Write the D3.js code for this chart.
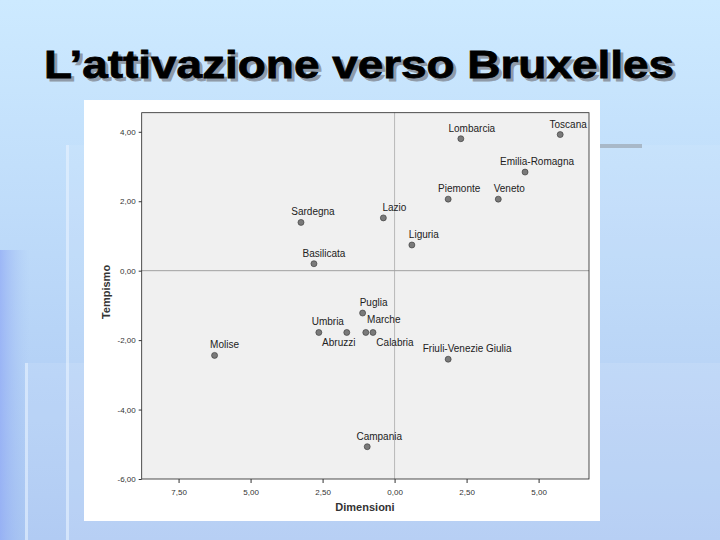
<!DOCTYPE html>
<html><head><meta charset="utf-8">
<script src="https://cdn.jsdelivr.net/npm/d3@7"></script>
<style>body{margin:0}svg{display:block}</style>
</head><body><div id="chart"></div>
<script>
// regions and their scores
const regions = ["Lombarcia","Toscana","Emilia-Romagna","Piemonte","Veneto","Lazio","Sardegna","Liguria","Basilicata","Puglia","Umbria","Abruzzi","Marche","Calabria","Friuli-Venezie Giulia","Molise","Campania"];
const dimensioni = [2.30,5.75,4.53,1.86,3.60,-0.39,-3.25,0.60,-2.80,-1.11,-2.63,-1.66,-1.00,-0.75,1.86,-6.25,-0.95];
const tempismo = [3.80,3.92,2.84,2.06,2.06,1.52,1.39,0.74,0.20,-1.22,-1.78,-1.78,-1.78,-1.78,-2.55,-2.44,-5.07];
const xTicks = [-7.5,-5,-2.5,0,2.5,5];
const xTickLabels = ["7,50","5,00","2,50","0,00","2,50","5,00"];
const yTicks = [4,2,0,-2,-4,-6];
const yTickLabels = ["4,00","2,00","0,00","-2,00","-4,00","-6,00"];
// label offsets (px) for each point
const labelDx = [11,8,12,11,11,11,12,12,10,11,9,-8,18,22,19,10,12];
const labelDy = [-7,-7,-7,-7,-7,-7,-7,-7,-7,-7,-7,14,-9,14,-7,-7,-7];

const W = 720, H = 540;
const svg = d3.select("#chart").append("svg").attr("width", W).attr("height", H);

const defs = svg.append("defs");
const g = defs.append("linearGradient").attr("id","bg").attr("x1",0).attr("y1",0).attr("x2",0).attr("y2",1);
g.append("stop").attr("offset","0%").attr("stop-color","#cdeaff");
g.append("stop").attr("offset","100%").attr("stop-color","#a9c6f2");
const g2 = defs.append("linearGradient").attr("id","side").attr("x1",0).attr("y1",0).attr("x2",1).attr("y2",0);
g2.append("stop").attr("offset","0%").attr("stop-color","#8fa8f5").attr("stop-opacity",0.7);
g2.append("stop").attr("offset","100%").attr("stop-color","#a9c6f2").attr("stop-opacity",0);
svg.append("rect").attr("width",W).attr("height",H).attr("fill","url(#bg)");
svg.append("rect").attr("x",0).attr("y",250).attr("width",30).attr("height",290).attr("fill","url(#side)");
// decorative bands
svg.append("rect").attr("x",66).attr("y",145).attr("width",654).attr("height",395).attr("fill","#ffffff").attr("opacity",0.08);
svg.append("rect").attr("x",25).attr("y",363).attr("width",695).attr("height",177).attr("fill","#ffffff").attr("opacity",0.1);
svg.append("rect").attr("x",66).attr("y",145).attr("width",3).attr("height",395).attr("fill","#e6f2ff").attr("opacity",0.6);
svg.append("rect").attr("x",25).attr("y",363).attr("width",3).attr("height",177).attr("fill","#e6f2ff").attr("opacity",0.6);
svg.append("rect").attr("x",560).attr("y",144).attr("width",82).attr("height",4).attr("fill","#a8b8c8");

// title
const title = "L\u2019attivazione verso Bruxelles";
[["#8f9aa8",47,81],["#000",44,78]].forEach(([c,tx,ty])=>{
  svg.append("text").attr("x",tx).attr("y",ty).attr("textLength",630).attr("lengthAdjust","spacingAndGlyphs")
    .style("font-family","Liberation Sans, Arial, sans-serif").style("font-weight","bold").style("font-size","38px")
    .attr("fill",c).attr("stroke",c).attr("stroke-width",0.8).text(title);
});

// white panel
svg.append("rect").attr("x",84).attr("y",100).attr("width",516).attr("height",421).attr("fill","#fff");

const L = 141.7, R = 589, T = 112.7, B = 479;
const x = d3.scaleLinear().domain([-8.78,6.75]).range([L,R]);
const y = d3.scaleLinear().domain([-6,4.55]).range([B,T]);

svg.append("rect").attr("x",L).attr("y",T).attr("width",R-L).attr("height",B-T).attr("fill","#f0f0f0");
svg.append("line").attr("x1",x(0)).attr("x2",x(0)).attr("y1",T).attr("y2",B).attr("stroke","#b8b8b8");
svg.append("line").attr("x1",L).attr("x2",R).attr("y1",y(0)).attr("y2",y(0)).attr("stroke","#a0a0a0");
svg.append("rect").attr("x",L).attr("y",T).attr("width",R-L).attr("height",B-T).attr("fill","none").attr("stroke","#222").attr("stroke-width",0.8);

const xAxis = svg.append("g").attr("transform",`translate(0,${B})`)
  .call(d3.axisBottom(x).tickValues(xTicks).tickSize(4).tickFormat((d,i)=>xTickLabels[i]));
const yAxis = svg.append("g").attr("transform",`translate(${L},0)`)
  .call(d3.axisLeft(y).tickValues(yTicks).tickSize(3).tickFormat((d,i)=>yTickLabels[i]));
[xAxis,yAxis].forEach(a=>{
  a.select(".domain").remove();
  a.selectAll("text").style("font-family","Liberation Sans, Arial, sans-serif").style("font-size","8px").attr("fill","#333");
  a.selectAll("line").attr("stroke","#333");
});
xAxis.selectAll("text").attr("dy","1.1em");

svg.append("text").attr("x",365).attr("y",511).attr("text-anchor","middle")
  .style("font-family","Liberation Sans, Arial, sans-serif").style("font-weight","bold").style("font-size","11px").attr("fill","#333").text("Dimensioni");
svg.append("text").attr("transform","translate(110,292) rotate(-90)").attr("text-anchor","middle")
  .style("font-family","Liberation Sans, Arial, sans-serif").style("font-weight","bold").style("font-size","11px").attr("fill","#333").text("Tempismo");

const pts = svg.append("g").selectAll("g").data(regions).enter().append("g");
pts.append("circle").attr("cx",(d,i)=>x(dimensioni[i])).attr("cy",(d,i)=>y(tempismo[i])).attr("r",3)
  .attr("fill","#7a7a7a").attr("stroke","#333").attr("stroke-width",0.6);
pts.append("text").attr("x",(d,i)=>x(dimensioni[i])+labelDx[i]).attr("y",(d,i)=>y(tempismo[i])+labelDy[i])
  .attr("text-anchor","middle").style("font-family","Liberation Sans, Arial, sans-serif").style("font-size","10px")
  .attr("fill","#222").text(d=>d);
</script></body></html>
